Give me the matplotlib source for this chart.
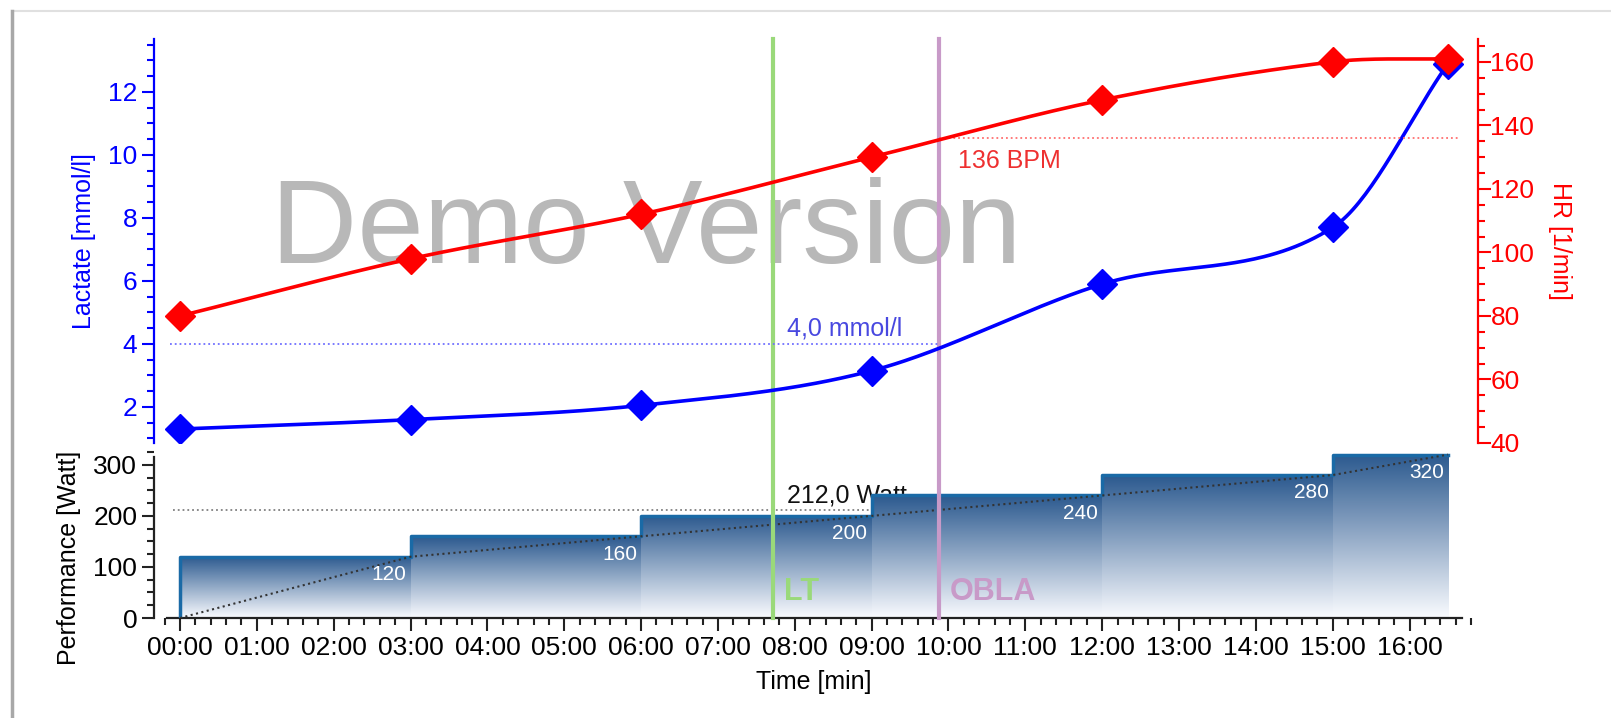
import numpy as np
import matplotlib
matplotlib.use("Agg")
import matplotlib.pyplot as plt
from matplotlib.ticker import MultipleLocator, FuncFormatter
from matplotlib.lines import Line2D

plt.rcParams['font.family'] = ['Liberation Sans', 'DejaVu Sans']

# test data (time in minutes)
times = [0, 3, 6, 9, 12, 15, 16.5]
lactate = [1.3, 1.6, 2.05, 3.15, 5.9, 7.7, 12.9]
hr = [80, 98, 112, 130, 148, 160, 161]

stage_start = [0, 3, 6, 9, 12, 15]
stage_end = [3, 6, 9, 12, 15, 16.5]
watts = [120, 160, 200, 240, 280, 320]

lt_time = 7.72
obla_time = 9.87
obla_lactate = 4.0
obla_hr = 136
obla_watt = 212.0

BLUE = '#0000ff'
RED = '#ff0000'
GREEN = '#9ad97a'
PURPLE = '#c89ac8'


def smooth_curve(x, y, xs):
    # cardinal (catmull-rom like) hermite spline through the points
    x = np.asarray(x, float)
    y = np.asarray(y, float)
    n = len(x)
    m = np.zeros(n)
    m[0] = (y[1] - y[0]) / (x[1] - x[0])
    m[-1] = (y[-1] - y[-2]) / (x[-1] - x[-2])
    for i in range(1, n - 1):
        m[i] = (y[i + 1] - y[i - 1]) / (x[i + 1] - x[i - 1])
    k = np.clip(np.searchsorted(x, xs) - 1, 0, n - 2)
    h = x[k + 1] - x[k]
    t = (xs - x[k]) / h
    h00 = 2 * t**3 - 3 * t**2 + 1
    h10 = t**3 - 2 * t**2 + t
    h01 = -2 * t**3 + 3 * t**2
    h11 = t**3 - t**2
    return h00 * y[k] + h10 * h * m[k] + h01 * y[k + 1] + h11 * h * m[k + 1]


W, H = 1611, 718
fig = plt.figure(figsize=(W / 100, H / 100), dpi=100)

x0, x1 = 154, 1478
xlim = (-(180 - 154) / 76.85, (1478 - 180) / 76.85)

# --- lower panel: performance ---
axp = fig.add_axes([x0 / W, (H - 618) / H, (x1 - x0) / W, 168 / H])
axp.set_xlim(xlim)
axp.set_ylim(0, 329)
axp.patch.set_alpha(0)

axp.plot([-0.09, obla_time], [obla_watt, obla_watt], ls=':', color='#808080', lw=1.3, zorder=1)
axp.text(7.9, obla_watt + 4, f'{obla_watt:.1f} Watt'.replace('.', ','), fontsize=18,
         color='#111111', va='bottom', ha='left', zorder=1)

dark = np.array([0.17, 0.35, 0.56])
light = np.array([0.98, 0.985, 1.0])
grad = np.linspace(0, 1, 256)[:, None, None]
img = (1 - grad) * light + grad * dark
for s, e, w in zip(stage_start, stage_end, watts):
    axp.imshow(img, extent=(s, e, 0, w), origin='lower', aspect='auto',
               interpolation='bilinear', zorder=2)
    axp.annotate(str(w), (e, w), xytext=(-3, -6), textcoords='offset points',
                 ha='right', va='top', color='white', fontsize=15, zorder=4)

edge_x = [0] + stage_start + [stage_end[-1]]
edge_y = [0] + watts + [watts[-1]]
axp.step(edge_x, edge_y, where='post', color='#1a6aa6', lw=2.5, zorder=3)
ramp_x = [0] + stage_end
ramp_y = [0] + watts
axp.plot(ramp_x, ramp_y, ls=':', color='#333333', lw=1.5, zorder=3)

axp.text(lt_time + 0.14, 35, 'LT', color=GREEN, fontsize=22,
         fontweight='bold', ha='left', va='baseline', zorder=5)
axp.text(obla_time + 0.14, 35, 'OBLA', color=PURPLE, fontsize=22,
         fontweight='bold', ha='left', va='baseline', zorder=5)

for sp in ['top', 'right']:
    axp.spines[sp].set_visible(False)
axp.spines['left'].set_bounds(0, 316)
axp.spines['bottom'].set_bounds(-0.17, 16.68)
for sp in ['left', 'bottom']:
    axp.spines[sp].set_color('#222222')
    axp.spines[sp].set_linewidth(1.6)
axp.yaxis.set_major_locator(MultipleLocator(100))
axp.yaxis.set_minor_locator(MultipleLocator(25))
axp.xaxis.set_major_locator(MultipleLocator(1))
axp.xaxis.set_minor_locator(MultipleLocator(0.2))
axp.xaxis.set_major_formatter(FuncFormatter(lambda v, p: f'{int(round(v)):02d}:00'))
axp.tick_params(axis='both', which='major', length=9, width=1.5, labelsize=19, color='#222222')
axp.tick_params(axis='both', which='minor', length=5, width=1.5, color='#222222')
axp.tick_params(axis='x', pad=4)
axp.tick_params(axis='y', pad=3)
axp.set_ylabel('Performance [Watt]', fontsize=18, va='center')
axp.yaxis.set_label_coords(-0.0642, 0.36)
axp.set_xlabel('Time [min]', fontsize=18, va='center')
axp.xaxis.set_label_coords(0.498, -0.38)

# --- upper panel: lactate & heart rate ---
ax1 = fig.add_axes([x0 / W, (H - 443) / H, (x1 - x0) / W, 404 / H])
ax1.set_xlim(xlim)
ax1.set_ylim(0.857, 13.68)
ax1.patch.set_alpha(0)
ax2 = ax1.twinx()
ax2.set_ylim(40, 167.2)

ax1.text(0.372, 0.4455, 'Demo Version', transform=ax1.transAxes, fontsize=86,
         color='#b8b8b8', ha='center', va='baseline', zorder=0)

for t, c in [(lt_time, GREEN), (obla_time, PURPLE)]:
    ax1.axvline(t, ymin=-0.433, ymax=1.0, color=c, lw=3, clip_on=False, zorder=1)

ax1.plot([-0.13, obla_time], [obla_lactate, obla_lactate], ls=':', color='#7070ff', lw=1.3, zorder=1)
ax1.text(7.9, obla_lactate + 0.12, f'{obla_lactate:.1f} mmol/l'.replace('.', ','),
         fontsize=18, color='#4848e0', ha='left', va='bottom')
ax2.plot([obla_time, 16.63], [obla_hr, obla_hr], ls=':', color='#ff7070', lw=1.3, zorder=1)
ax2.text(obla_time + 0.25, obla_hr - 3.5, f'{obla_hr} BPM', fontsize=18, color='#ee3030',
         ha='left', va='top')

xs = np.linspace(times[0], times[-1], 400)
ax1.plot(xs, smooth_curve(times, lactate, xs), color=BLUE, lw=2.6, zorder=3)
ax1.plot(times, lactate, 'D', color=BLUE, ms=15, zorder=4)
ax2.plot(xs, smooth_curve(times, hr, xs), color=RED, lw=2.6, zorder=3)
ax2.plot(times, hr, 'D', color=RED, ms=15, zorder=4)

for a in (ax1, ax2):
    a.spines['top'].set_visible(False)
    a.spines['bottom'].set_visible(False)
    a.tick_params(axis='x', which='both', bottom=False, labelbottom=False)
ax1.spines['right'].set_visible(False)
ax2.spines['left'].set_visible(False)
ax1.spines['left'].set_color(BLUE)
ax1.spines['left'].set_linewidth(1.6)
ax2.spines['right'].set_color(RED)
ax2.spines['right'].set_linewidth(1.6)

ax1.yaxis.set_major_locator(MultipleLocator(2))
ax1.yaxis.set_minor_locator(MultipleLocator(0.5))
ax1.tick_params(axis='y', which='major', length=9, width=1.5, color=BLUE, labelcolor=BLUE,
                labelsize=19, pad=3)
ax1.tick_params(axis='y', which='minor', length=5, width=1.5, color=BLUE)
ax2.yaxis.set_major_locator(MultipleLocator(20))
ax2.yaxis.set_minor_locator(MultipleLocator(5))
ax2.tick_params(axis='y', which='major', length=9, width=1.5, color=RED, labelcolor=RED,
                labelsize=19, pad=0)
ax2.tick_params(axis='y', which='minor', length=5, width=1.5, color=RED)

ax1.set_ylabel('Lactate [mmol/l]', fontsize=18, color=BLUE, va='center')
ax1.yaxis.set_label_coords(-0.0532, 0.5)
ax2.set_ylabel('HR [1/min]', fontsize=18, color=RED, rotation=270, va='center')
ax2.yaxis.set_label_coords(1.0619, 0.5)

# window frame
fig.add_artist(Line2D([12 / W, 1], [(H - 11) / H] * 2, color='#e0e0e0', lw=1.5))
fig.add_artist(Line2D([12 / W] * 2, [0, (H - 11) / H], color='#a8a8a8', lw=2.5))

fig.savefig('out.png', dpi=100)
